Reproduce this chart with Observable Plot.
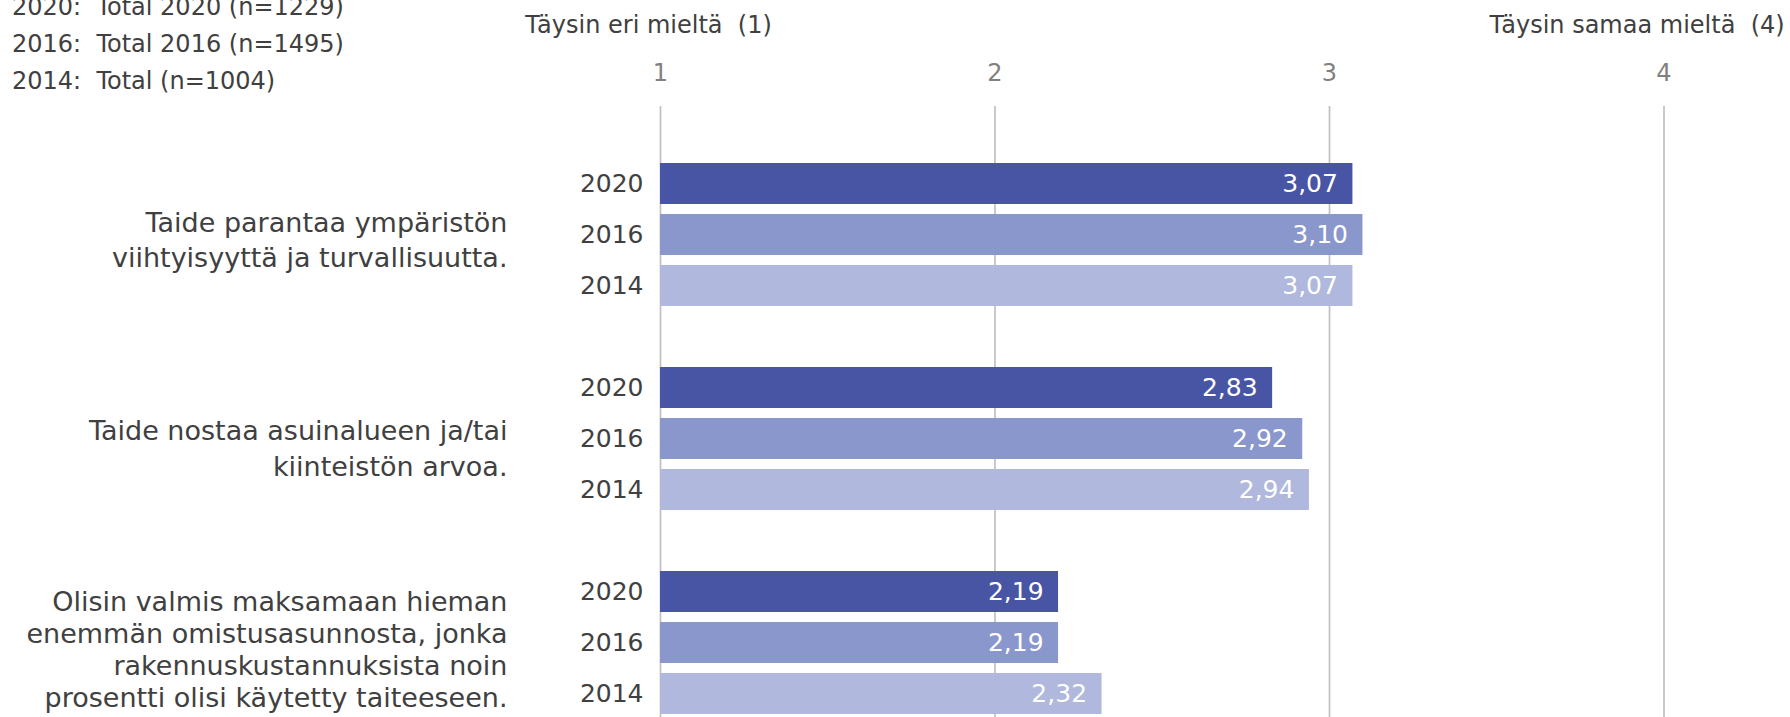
<!DOCTYPE html>
<html>
<head>
<meta charset="utf-8">
<script src="https://cdn.jsdelivr.net/npm/d3@7"></script>
<script src="https://cdn.jsdelivr.net/npm/@observablehq/plot@0.6"></script>
<style>
  html, body { margin: 0; padding: 0; background: #fff; }
  #wrap { position: relative; width: 1790px; height: 717px; overflow: hidden; }
  #legend { position: absolute; left: 12px; top: -11.5px; font-family: "DejaVu Sans", sans-serif; font-size: 24px; line-height: 37px; color: #404040; white-space: pre; }
  svg text { white-space: pre; }
</style>
</head>
<body>
<div id="wrap"><div id="legend"></div></div>
<script>
// ---- data ----
const categoryLines = [
  ["Taide parantaa ympäristön", "viihtyisyyttä ja turvallisuutta."],
  ["Taide nostaa asuinalueen ja/tai", "kiinteistön arvoa."],
  ["Olisin valmis maksamaan hieman", "enemmän omistusasunnosta, jonka", "rakennuskustannuksista noin", "prosentti olisi käytetty taiteeseen."]
];
const years = ["2020", "2016", "2014"];
const values2020 = [3.07, 2.83, 2.19];
const values2016 = [3.10, 2.92, 2.19];
const values2014 = [3.07, 2.94, 2.32];
const xTicks = [1, 2, 3, 4];
const legendLabels = ["2020:  Total 2020 (n=1229)", "2016:  Total 2016 (n=1495)", "2014:  Total (n=1004)"];
const headerLeft = "Täysin eri mieltä  (1)";
const headerRight = "Täysin samaa mieltä  (4)";
const stubCategories = [0, 1];
const colors = ["#4855a5", "#8a97cd", "#b0b8dd"];

// ---- derived tables ----
const seriesValues = [values2020, values2016, values2014];
const slots = categoryLines.flatMap((_, i) => [`${i}-blank`, ...years.map(y => `${i}-${y}`)]);
const rows = categoryLines.flatMap((_, i) => years.map((y, j) => ({cat: i, year: y, slot: `${i}-${y}`, value: seriesValues[j][i]})));

const catStyle = [
  {lineHeight: 1.3, dy: 3.6},
  {lineHeight: 1.33, dy: 7.7},
  {lineHeight: 1.19, dy: 5.7}
];

const textColor = "#404040";

const plot = Plot.plot({
  width: 1790,
  height: 717,
  marginLeft: 660,
  marginRight: 126.5,
  marginTop: 106,
  marginBottom: 0,
  style: {fontFamily: "DejaVu Sans, sans-serif", background: "white"},
  x: {domain: [1, 4], axis: null},
  y: {type: "band", domain: slots, range: [104.5, 720.5], paddingInner: 0.2, paddingOuter: 0.1, axis: null},
  color: {domain: years, range: colors},
  marks: [
    Plot.ruleX(xTicks, {x: d => d, stroke: "#c0c0c0", strokeWidth: 1.7}),
    Plot.ruleX(stubCategories, {x: () => 1, y: d => `${d}-blank`, stroke: "#4855a5", strokeWidth: 1.5, dx: -1.5}),
    Plot.barX(rows, {x1: () => 1, x2: "value", y: "slot", fill: "year"}),
    Plot.text(rows, {x: "value", y: "slot", text: d => d.value.toFixed(2).replace(".", ","), textAnchor: "end", dx: -15, fill: "white", fontSize: 25}),
    Plot.text(rows, {frameAnchor: "left", y: "slot", text: "year", textAnchor: "end", dx: -17, fill: textColor, fontSize: 25}),
    ...categoryLines.map((lines, i) => Plot.text([i], {
      frameAnchor: "left", y: d => `${d}-2016`, text: d => categoryLines[d].join("\n"),
      textAnchor: "end", lineAnchor: "middle", dx: -153, dy: catStyle[i].dy,
      lineHeight: catStyle[i].lineHeight, fill: textColor, fontSize: 27
    })),
    Plot.text(xTicks, {x: d => d, frameAnchor: "top", dy: -33, text: d => String(d), fill: "#808080", fontSize: 24, lineAnchor: "middle"}),
    Plot.text([xTicks[0]], {x: d => d, frameAnchor: "top", dy: -81, dx: -12, text: () => headerLeft, fill: textColor, fontSize: 24, lineAnchor: "middle"}),
    Plot.text([xTicks[3]], {x: d => d, frameAnchor: "top", dy: -81, dx: -27, text: () => headerRight, fill: textColor, fontSize: 24, lineAnchor: "middle"})
  ]
});

const wrap = document.getElementById("wrap");
wrap.insertBefore(plot, wrap.firstChild);
document.getElementById("legend").innerHTML = legendLabels.map(t => `<div>${t}</div>`).join("");
</script>
</body>
</html>
